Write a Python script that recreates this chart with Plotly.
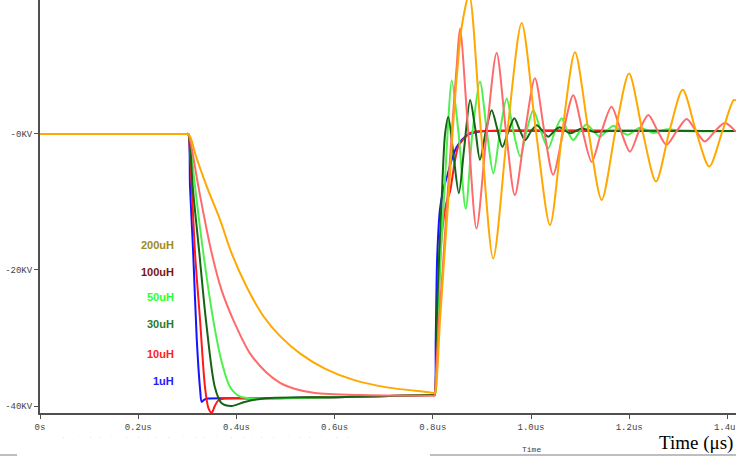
import plotly.graph_objects as go

# ---------------- data (time in us, voltage in kV) ----------------
T_1uH = [0, 0.29, 0.299, 0.302, 0.3055, 0.312, 0.319, 0.326, 0.3293, 0.334, 0.342, 0.45, 0.6, 0.795, 0.8015, 0.8035,
         0.806, 0.809, 0.8147, 0.822, 0.83, 0.8385, 0.8486, 0.86, 0.872, 0.89, 0.91, 1.4175]
V_1uH = [0, 0, 0, 0, -7.7, -17.5, -29.8, -37.5, -39.4, -39.1, -38.9, -38.9, -38.7, -38.4, -38.4, -38.4,
         -30, -18, -11, -8, -6, -3.8, -1.9, -0.8, -0.1, 0.3, 0.44, 0.44]

T_10uH = [0, 0.29, 0.299, 0.302, 0.3055, 0.3157, 0.326, 0.336, 0.343, 0.3496, 0.356, 0.363, 0.377, 0.45, 0.6,
          0.795, 0.8015, 0.8035, 0.8113, 0.818, 0.828, 0.835, 0.8385, 0.845, 0.852, 0.862, 0.872, 0.89, 0.91, 1.4175]
V_10uH = [0, 0, 0, 0, -2.8, -17.5, -27.4, -37.2, -40.3, -41.0, -40.0, -39.2, -38.9, -38.9, -38.7,
          -38.4, -38.4, -38.4, -25, -15, -10, -8.5, -7, -4, -1.8, -0.8, 0, 0.4, 0.44, 0.44]

T_30uH = [0, 0.29, 0.299, 0.302, 0.306, 0.311, 0.3245, 0.338, 0.356, 0.37, 0.39, 0.417, 0.445, 0.48, 0.6,
          0.795, 0.8015, 0.8035, 0.808, 0.813, 0.818, 0.825, 0.8316, 0.842, 0.853, 0.864, 0.876, 0.886, 0.896,
          0.908, 0.920, 0.931, 0.9416, 0.954, 0.966, 0.977, 0.988, 1.0, 1.0116, 1.023, 1.035, 1.047,
          1.058, 1.08, 1.103, 1.13, 1.16, 1.4175]
V_30uH = [0, 0, 0, 0, -2, -7.7, -17.5, -27.4, -37.2, -39.6, -40.0, -39.4, -39.0, -38.8, -38.7,
          -38.4, -38.4, -38.4, -27.4, -17.5, -9.7, 0, 2.5, -3, -8.7, -2, 5.0, 1, -3.8,
          0.4, 3.5, 0.8, -1.9, 0.4, 2.3, 0.6, -0.9, 0.4, 1.3, 0.5, -0.4, 0.4,
          1.0, 0.1, 0.8, 0.3, 0.44, 0.44]

T_50uH = [0, 0.29, 0.299, 0.302, 0.307, 0.3157, 0.3326, 0.353, 0.37, 0.387, 0.407, 0.43, 0.6, 0.795, 0.8015, 0.8035,
          0.806, 0.81, 0.816, 0.824, 0.830, 0.8385, 0.852, 0.867, 0.881, 0.896, 0.91, 0.9233, 0.937,
          0.9505, 0.964, 0.978, 0.991, 1.0047, 1.02, 1.035, 1.049, 1.0625, 1.074, 1.086, 1.1, 1.113,
          1.127, 1.140, 1.154, 1.168, 1.182, 1.197, 1.222, 1.25, 1.277, 1.31, 1.4175]
V_50uH = [0, 0, 0, 0, -2, -7.7, -17.5, -27.4, -33.5, -37.2, -38.6, -38.9, -38.7, -38.4, -38.4, -38.4,
          -38, -28, -18, -8, 0, 7.9, 0.44, -11, 0.44, 7.7, 0.44, -5.8, 0.44,
          5.2, 0.44, -3.3, 0.44, 3.5, 0.44, -2.1, 0.44, 2.3, 0.44, -0.9, 0.44, 1.4,
          0.44, -0.4, 0.44, 1.2, 0.44, -0.1, 0.9, 0.15, 0.7, 0.44, 0.44]

T_100uH = [0, 0.29, 0.299, 0.302, 0.31, 0.3225, 0.3496, 0.37, 0.394, 0.428, 0.46, 0.489, 0.52, 0.56, 0.65, 0.795,
           0.8015, 0.8035, 0.806, 0.812, 0.82, 0.83, 0.8385, 0.8486, 0.8554, 0.872, 0.889, 0.910, 0.930, 0.949,
           0.967, 0.988, 1.008, 1.027, 1.045, 1.066, 1.086, 1.105, 1.1236, 1.144, 1.164, 1.183, 1.2016,
           1.22, 1.239, 1.258, 1.276, 1.297, 1.317, 1.336, 1.354, 1.375, 1.395, 1.4175]
V_100uH = [0, 0, 0, 0, -2.5, -7.7, -17.5, -23, -27.4, -32.3, -35.0, -36.6, -37.5, -38.1, -38.4, -38.5,
           -38.5, -38.5, -36, -28, -20, -9, 0, 9.9, 15.5, 0.44, -13.9, 0.44, 11.9, 0.44,
           -9.0, 0.44, 8.2, 0.44, -6.0, 0.44, 5.7, 0.44, -4.1, 0.44, 4.0, 0.44, -2.6,
           0.44, 2.8, 0.44, -1.6, 0.44, 2.2, 0.44, -1.1, 0.44, 1.6, 0.3]

T_200uH = [0, 0.29, 0.299, 0.302, 0.308, 0.3157, 0.3395, 0.3666, 0.390, 0.421, 0.455, 0.49, 0.53, 0.58, 0.64,
           0.71, 0.795, 0.8025, 0.8045, 0.8147, 0.824, 0.8316, 0.845, 0.859, 0.874, 0.898, 0.923, 0.952, 0.981,
           1.01, 1.0387, 1.064, 1.0896, 1.117, 1.144, 1.172, 1.1996, 1.227, 1.2546, 1.282, 1.309, 1.336, 1.363,
           1.39, 1.413, 1.4175]
V_200uH = [0, 0, 0, 0, -0.8, -2.8, -7.7, -12.6, -17.5, -22.5, -26.8, -29.8, -32.3, -34.5, -36.2,
           -37.3, -38.0, -38.1, -38.1, -27.4, -17.5, -9.7, 5, 15.8, 20.5, 0.44, -18.3, 0.44, 16.3,
           0.44, -13.4, 0.44, 12.0, 0.44, -9.7, 0.44, 8.9, 0.44, -7.0, 0.44, 6.5, 0.44, -4.8,
           0.44, 5.0, 4.9]

X_TICKS = [0, 0.2, 0.4, 0.6, 0.8, 1.0, 1.2, 1.4]
X_TICK_TEXT = ["0s", "0.2us", "0.4us", "0.6us", "0.8us", "1.0us", "1.2us", "1.4us"]
Y_TICKS = [0, -20, -40]
Y_TICK_TEXT = ["-0KV", "-20KV", "-40KV"]

LABELS = ["200uH", "100uH", "50uH", "30uH", "10uH", "1uH"]

# faint, cut-off legend row of the original simulator window
FAINT_ROW = "·    ˙   ·  ·   ˙    ·   ·  ˙  ·   ·    ˙   ·  ·   ˙    ·   ·  ˙  ·   ·    ˙   ·  ·   ˙    ·   ·  ˙"

# ---------------- styles ----------------
W, H = 736, 459
ML, MB = 40, 46
PW, PH = W - ML, H - MB

def px2paper(px, py):
    return (px - ML) / PW, (PH - py) / PH

series = [  # drawing order: last on top
    (T_1uH, V_1uH, "#1414ff", "1uH"),
    (T_10uH, V_10uH, "#ff1a1a", "10uH"),
    (T_50uH, V_50uH, "#4ef04e", "50uH"),
    (T_30uH, V_30uH, "#146414", "30uH"),
    (T_100uH, V_100uH, "#ff6a6a", "100uH"),
    (T_200uH, V_200uH, "#ffa800", "200uH"),
]

fig = go.Figure()
for t, v, c, name in series:
    fig.add_trace(go.Scatter(x=t, y=v, mode="lines", name=name,
                             line=dict(color=c, width=2, shape="spline", smoothing=0.8),
                             hoverinfo="skip"))

label_colors = ["#9c8c22", "#7c1414", "#2cff2c", "#2a7a2a", "#ff2020", "#1c1cff"]
label_y = [245, 272, 297, 324, 354, 381]
for txt, col, py in zip(LABELS, label_colors, label_y):
    xp, yp = px2paper(176, py)
    fig.add_annotation(x=xp, y=yp, xref="paper", yref="paper", text=f"<b>{txt}</b>",
                       showarrow=False, xanchor="right", yanchor="middle",
                       font=dict(family="Liberation Sans, Arial", size=11, color=col))

xp, yp = px2paper(735, 443)
fig.add_annotation(x=xp, y=yp, xref="paper", yref="paper", text="Time (μs)", showarrow=False,
                   xanchor="right", yanchor="middle",
                   font=dict(family="Liberation Serif, Times New Roman", size=19, color="#000"))
xp, yp = px2paper(531, 449)
fig.add_annotation(x=xp, y=yp, xref="paper", yref="paper", text="Time", showarrow=False,
                   xanchor="center", yanchor="middle",
                   font=dict(family="Liberation Mono, Courier New", size=8, color="#444"))
xp, yp = px2paper(60, 438)
fig.add_annotation(x=xp, y=yp, xref="paper", yref="paper", text=FAINT_ROW, showarrow=False,
                   xanchor="left", yanchor="middle",
                   font=dict(family="Liberation Mono, Courier New", size=5, color="#c4c4c4"))

# window border lines at the bottom
for x0, x1 in [(0, 17), (430, 736)]:
    a0, b0 = px2paper(x0, 455)
    a1, _ = px2paper(x1, 455)
    fig.add_shape(type="line", xref="paper", yref="paper", x0=a0, x1=a1, y0=b0, y1=b0,
                  line=dict(color="#a8a8a8", width=1.5))

tickfont = dict(family="Liberation Mono, Courier New", size=9, color="#444")
fig.update_layout(
    width=W, height=H,
    margin=dict(l=ML, r=0, t=0, b=MB, autoexpand=False),
    paper_bgcolor="white", plot_bgcolor="white",
    showlegend=False,
    xaxis=dict(range=[0, 1.4175], showgrid=False, zeroline=False, showline=True, automargin=False,
               linecolor="#505050", linewidth=2, ticks="outside", ticklen=4, tickwidth=1,
               tickcolor="#505050", tickvals=X_TICKS, ticktext=X_TICK_TEXT, tickfont=tickfont,
               ticklabeloverflow="allow"),
    yaxis=dict(range=[-41.03, 19.7], showgrid=False, zeroline=False, showline=True, automargin=False,
               linecolor="#505050", linewidth=2, ticks="outside", ticklen=4, tickwidth=1,
               tickcolor="#505050", tickvals=Y_TICKS, ticktext=Y_TICK_TEXT, tickfont=tickfont),
)

fig.write_html("out.html", config={"displayModeBar": False},
               post_script="document.body.style.margin='0';document.body.style.overflow='hidden';")
